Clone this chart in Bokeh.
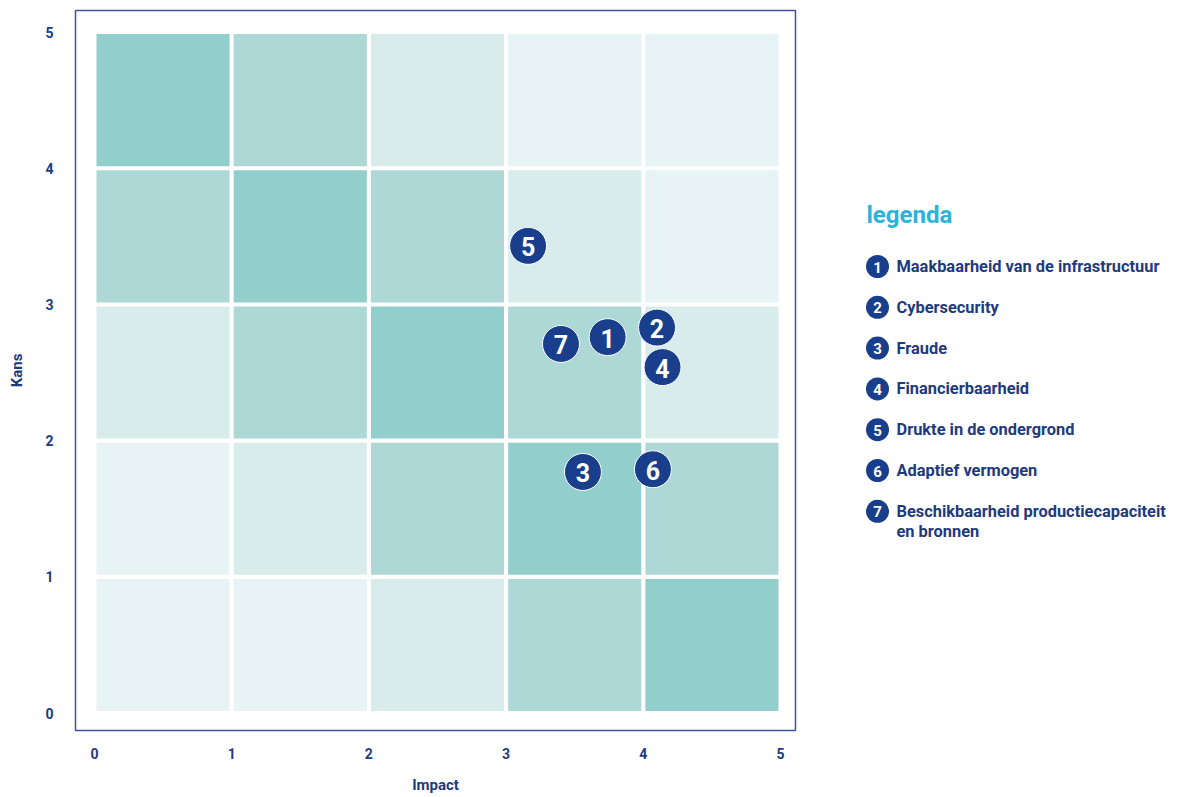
from bokeh.plotting import figure
from bokeh.models import Range1d, FixedTicker, ColumnDataSource
from bokeh.layouts import row
from bokeh.embed import file_html
from bokeh.resources import INLINE
from bokeh.core.properties import value

# ---- data ----
axis_ticks = [0, 1, 2, 3, 4, 5]
# cell shade levels (0 = lightest, 3 = darkest); rows listed from Kans 0-1 upward
cell_levels = [
    [0, 0, 1, 2, 3],   # Kans 0-1
    [0, 1, 2, 3, 2],   # Kans 1-2
    [1, 2, 3, 2, 1],   # Kans 2-3
    [2, 3, 2, 1, 0],   # Kans 3-4
    [3, 2, 1, 0, 0],   # Kans 4-5
]
shade_palette = ["#E7F3F4", "#D7ECEB", "#ADD8D6", "#92CECB"]

risk_ids = ["1", "2", "3", "4", "5", "6", "7"]
risk_impact = [3.74, 4.10, 3.56, 4.14, 3.16, 4.07, 3.40]
risk_kans = [2.76, 2.83, 1.77, 2.54, 3.43, 1.79, 2.71]
risk_labels = [
    "Maakbaarheid van de infrastructuur",
    "Cybersecurity",
    "Fraude",
    "Financierbaarheid",
    "Drukte in de ondergrond",
    "Adaptief vermogen",
    "Beschikbaarheid productiecapaciteit\nen bronnen",
]

NAVY = "#183E8C"
TEXT_NAVY = "#1E3A7E"
FONT = "Roboto"
H = 797
TOP_B, BOT_B = 10, 67
MAIN_W = 805

# ---- main chart ----
p = figure(width=MAIN_W, height=H, output_backend="svg", toolbar_location=None,
           x_range=Range1d(-0.138, 5.109), y_range=Range1d(-0.128, 5.158),
           min_border_left=75, min_border_right=MAIN_W - 795,
           min_border_top=TOP_B, min_border_bottom=BOT_B)
p.background_fill_color = "white"
p.border_fill_color = "white"
p.outline_line_color = "#3F52A2"
p.outline_line_width = 1.5
p.grid.visible = False

# cells
lefts, rights, bottoms, tops, colors = [], [], [], [], []
for r, levels in enumerate(cell_levels):
    for c, lvl in enumerate(levels):
        lefts.append(c + 0.015)
        rights.append(c + 0.985)
        bottoms.append(r + 0.015)
        tops.append(r + 0.985)
        colors.append(shade_palette[lvl])
p.quad(left=lefts, right=rights, bottom=bottoms, top=tops, fill_color=colors, line_color=None)

src = ColumnDataSource(dict(x=risk_impact, y=risk_kans, t=risk_ids))
p.scatter("x", "y", source=src, size=37, fill_color=NAVY, line_color="white", line_width=1)
p.text("x", "y", text="t", source=src, text_color="white", text_font=value(FONT),
       text_font_style="bold", text_font_size="25px", text_align="center",
       text_baseline="middle", y_offset=1)

for ax in (p.xaxis, p.yaxis):
    ax.ticker = FixedTicker(ticks=axis_ticks)
    ax.axis_line_color = None
    ax.major_tick_line_color = None
    ax.minor_tick_line_color = None
    ax.major_label_text_font = FONT
    ax.major_label_text_font_style = "bold"
    ax.major_label_text_font_size = "14px"
    ax.major_label_text_color = TEXT_NAVY
    ax.axis_label_text_font = FONT
    ax.axis_label_text_font_style = "bold"
    ax.axis_label_text_font_size = "15px"
    ax.axis_label_text_color = TEXT_NAVY

p.xaxis.axis_label = "Impact"
p.yaxis.axis_label = "Kans"
p.xaxis.major_label_standoff = 11
p.xaxis.axis_label_standoff = 14
p.yaxis.major_label_standoff = 16
p.yaxis.axis_label_standoff = 16
p.yaxis.major_label_orientation = "horizontal"

# ---- legend panel (coordinates in pixels of the page: x offset by MAIN_W) ----
LW = 1176 - MAIN_W
lg = figure(width=LW, height=H, output_backend="svg", toolbar_location=None,
            x_range=Range1d(MAIN_W, MAIN_W + LW), y_range=Range1d(H - BOT_B, TOP_B),
            x_axis_location=None, y_axis_location=None,
            min_border_left=0, min_border_right=0, min_border_top=TOP_B, min_border_bottom=BOT_B)
lg.outline_line_color = None
lg.grid.visible = False

lg.text(x=[866], y=[214], text=["legenda"], text_color="#2BB3DA", text_font=value(FONT),
        text_font_style="bold", text_font_size="24px", text_baseline="middle")

item_top, item_step = 266, 40.8
ix = [877] * len(risk_ids)
iy = [item_top + i * item_step for i in range(len(risk_ids))]
lg.scatter(ix, iy, size=23, fill_color=NAVY, line_color=None)
lg.text(ix, [y + 0.5 for y in iy], text=risk_ids, text_color="white", text_font=value(FONT),
        text_font_style="bold", text_font_size="15px", text_align="center", text_baseline="middle")

tx, ty, tt = [], [], []
for i, lab in enumerate(risk_labels):
    for k, line in enumerate(lab.split("\n")):
        tx.append(896)
        ty.append(iy[i] + k * 20.5)
        tt.append(line)
lg.text(tx, ty, text=tt, text_color=TEXT_NAVY, text_font=value(FONT),
        text_font_style="bold", text_font_size="16.4px", text_baseline="middle")

layout = row(p, lg)
open("out.html", "w").write(file_html(layout, INLINE))
